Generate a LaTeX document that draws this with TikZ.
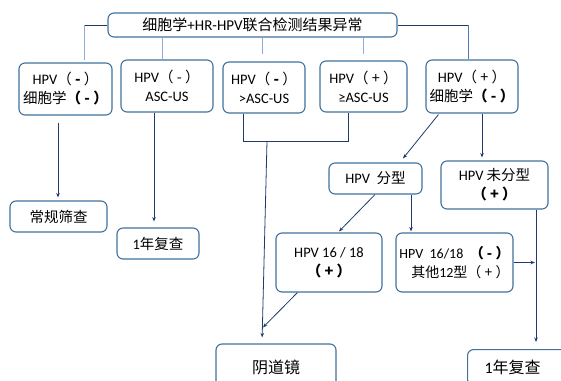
\documentclass[tikz,border=0pt]{standalone}
\usepackage{fontspec}
\setmainfont{Carlito}
\newfontfamily\cjk{Noto Sans CJK SC}
\usetikzlibrary{arrows.meta,calc}
\definecolor{boxline}{HTML}{41719C}
\definecolor{navy}{HTML}{1F3A6E}
\definecolor{pale}{HTML}{8FAADC}
\definecolor{midblue}{HTML}{4F76B5}
\newcommand{\zh}[1]{{\cjk #1}}

\begin{document}
\begin{tikzpicture}[x=1pt,y=-1pt,
  box node/.style={draw=boxline,line width=1.1pt,rounded corners=6pt,fill=white,align=center,inner sep=2pt,font=\fontsize{14.5}{19}\selectfont},
  link/.style={navy,line width=0.8pt,-{Stealth[length=4.5pt,width=3.5pt]}},
  plain link/.style={navy,line width=0.8pt},
  pale link/.style={pale,line width=1pt}]

  \useasboundingbox (0,0) rectangle (561,380);

  \node[box node,minimum width=289pt,minimum height=24pt,font=\fontsize{15}{18}\selectfont] (0) at (252.5,25) {\zh{细胞学}+HR-HPV\zh{联合检测结果异常}};

  \node[box node,minimum width=93pt,minimum height=52pt] (1) at (65.5,89) {HPV\zh{（ \textbf{-} ）}\\\zh{细胞学\textbf{（ - ）}}};
  \node[box node,minimum width=92pt,minimum height=52pt] (2) at (167,86) {HPV\zh{（ - ）}\\ASC-US};
  \node[box node,minimum width=82pt,minimum height=51pt] (3) at (264,87.5) {HPV\zh{（ \textbf{-} ）}\\>ASC-US};
  \node[box node,minimum width=87pt,minimum height=51pt] (4) at (363.5,86.5) {HPV\zh{（ + ）}\\≥ASC-US};
  \node[box node,minimum width=92pt,minimum height=53pt] (5) at (472,86.5) {HPV\zh{（ + ）}\\\zh{细胞学\textbf{（ - ）}}};

  \node[box node,minimum width=97pt,minimum height=31pt] (6) at (58.5,216.5) {\zh{常规筛查}};
  \node[box node,minimum width=82pt,minimum height=31pt] (7) at (158,243.5) {1\zh{年复查}};
  \node[box node,minimum width=93pt,minimum height=31pt] (8) at (375.5,178.5) {HPV\ \ \zh{分型}};
  \node[box node,minimum width=107pt,minimum height=48pt] (9) at (494.5,185) {HPV \zh{未分型}\\\zh{\textbf{（ + ）}}};
  \node[box node,minimum width=106pt,minimum height=59pt] (10) at (329,262.5) {HPV 16 / 18\\\zh{\textbf{（ + ）}}};
  \node[box node,minimum width=117pt,minimum height=59pt,align=right,font=\fontsize{14}{19}\selectfont] (11) at (454.5,262.5) {HPV\ \ 16/18\ \ \zh{\textbf{（ - ）}}\\\zh{其他}12\zh{型（ + ）}};
  \node[box node,minimum width=120pt,minimum height=46pt,font=\fontsize{16}{19}\selectfont] (12) at (276,367) {\zh{阴道镜}};
  \node[box node,anchor=north west,minimum width=134pt,minimum height=36pt,text width=100pt,align=left,inner xsep=17pt,font=\fontsize{16}{19}\selectfont] (13) at (467,349) {1\zh{年复查}};

  % top box to first row
  \draw[plain link] (0.west) -- (84,0 |- 0.west);
  \draw[pale link,shorten >=2pt] (84,0 |- 0.west) -- (84,0 |- 1.north);
  \draw[pale link] (162,0 |- 0.south) -- (162,0 |- 2.north);
  \draw[pale link,shorten >=7pt] (262,0 |- 0.south) -- (262,0 |- 3.north);
  \draw[pale link,shorten >=6pt] (363,0 |- 0.south) -- (363,0 |- 4.north);
  \draw[plain link] (0.east) -- (468,0 |- 0.east);
  \draw[midblue,line width=1pt] (468,0 |- 0.east) -- (468,0 |- 5.north);

  % first row down
  \coordinate (j) at (267,141);
  \draw[link,shorten <=7pt,shorten >=3pt] (58,0 |- 1.south) -- (58,0 |- 6.north);
  \draw[link,shorten >=6pt] (154,0 |- 2.south) -- (154,0 |- 7.north);
  \draw[plain link] (243,0 |- 3.south) |- (348,0 |- j) -- (348,0 |- 4.south);
  \draw[link,shorten >=6pt] (j) -- (262,0 |- 12.north);
  \draw[link] ($(5.south west)+(13,1)$) -- ($(8.north)+(27.5,-4)$);
  \draw[link,shorten >=3pt] (482,0 |- 5.south) -- (482,0 |- 9.north);

  % typing
  \draw[link] (375,0 |- 8.south) -- ($(10.north)+(10,-1)$);
  \draw[link,shorten >=1pt] (411,0 |- 8.south) -- (411,0 |- 11.north);
  \draw[link] (11.east) -- (535,0 |- 11.east);
  \draw[link,shorten >=7pt] (536,0 |- 9.south) -- (536,0 |- 13.north);
  \draw[link] ($(10.south west)+(22,0)$) -- ($(12.north)+(-13,-16)$);
\end{tikzpicture}
\end{document}
